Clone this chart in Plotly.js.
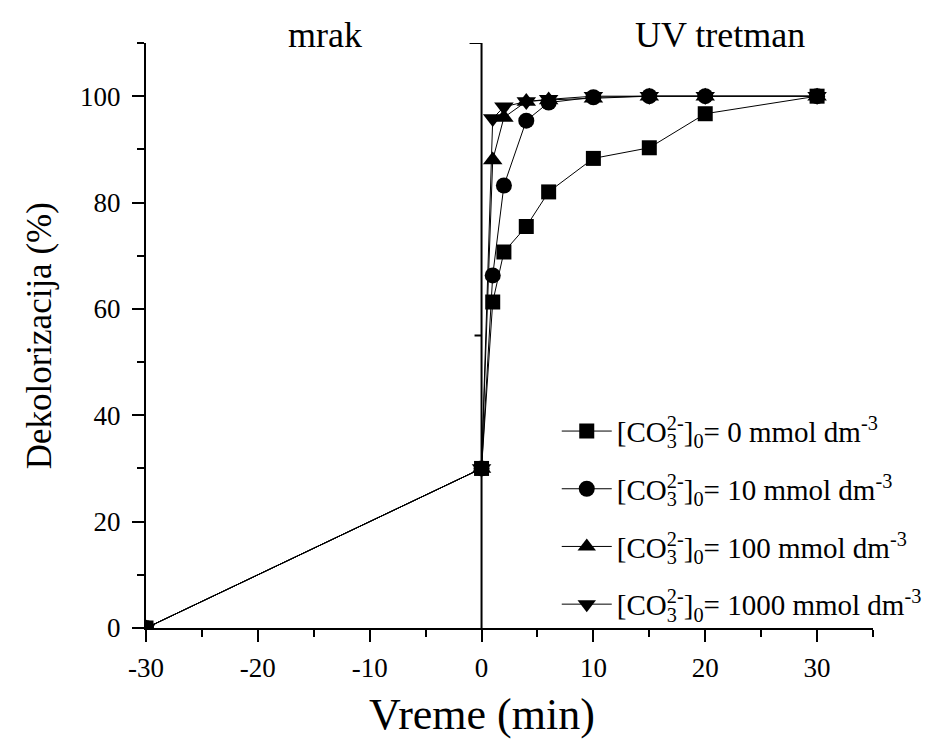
<!DOCTYPE html>
<html><head><meta charset="utf-8">
<script src="https://cdn.plot.ly/plotly-3.0.1.min.js"></script>
<style>body{margin:0;background:#fff}#chart{width:943px;height:749px}</style>
</head><body><div id="chart"></div>
<script>
// time (min): dark phase from -30 to 0, UV treatment afterwards
const timeMin = [-30, 0, 1, 2, 4, 6, 10, 15, 20, 30];
// decolorization (%) for each initial carbonate concentration
const co3_0    = [0, 30, 61.3, 70.7, 75.5, 82.0, 88.3, 90.3, 96.7, 100];
const co3_10   = [0, 30, 66.3, 83.2, 95.4, 98.8, 99.8, 100, 100, 100];
const co3_100  = [0, 30, 88.0, 96.0, 99.0, 99.3, 99.6, 100, 100, 100];
const co3_1000 = [0, 30, 95.8, 98.0, 99.0, 99.4, 100, 100, 100, 100];
const concLabels = ['0', '10', '100', '1000'];
const xTickVals = [-30, -20, -10, 0, 10, 20, 30];
const xTickText = ['-30', '-20', '-10', '0', '10', '20', '30'];
const yTickVals = [0, 20, 40, 60, 80, 100];
const yTickText = ['0', '20', '40', '60', '80', '100'];
const phaseLabels = ['mrak', 'UV tretman'];
const phaseBoundary = 0;

const FONT = 'Liberation Serif, Times New Roman, serif';
const seriesY = [co3_0, co3_10, co3_100, co3_1000];
const symbols = ['square', 'circle', 'triangle-up', 'triangle-down'];
const sizes = [15, 16, 17, 17];

const traces = seriesY.map((y, i) => ({
  x: timeMin, y: y, type: 'scatter', mode: 'lines+markers',
  name: '[CO<sub><span style="letter-spacing:-10px">3</span></sub><sup>2-</sup>]<sub>0</sub>= ' + concLabels[i] + ' mmol dm<sup>-3</sup>',
  legendgroup: 'g' + i,
  line: {color: '#000', width: 1},
  marker: {symbol: symbols[i], size: sizes[i], color: '#000', line: {width: 0}},
  cliponaxis: true
}));

const layout = {
  width: 943, height: 749,
  margin: {l: 146, r: 70, t: 43, b: 121},
  paper_bgcolor: '#fff', plot_bgcolor: '#fff',
  font: {family: FONT, color: '#000', size: 27},
  showlegend: true,
  legend: {x: 0.565, y: 0.38, xanchor: 'left', yanchor: 'top', bgcolor: 'rgba(0,0,0,0)',
           itemwidth: 50,
           font: {family: FONT, size: 29, color: '#000'}, traceorder: 'grouped', tracegroupgap: 17},
  xaxis: {range: [-30, 35], tickvals: xTickVals, ticktext: xTickText, ticks: 'outside', ticklen: 12, tickwidth: 2,
          tickcolor: '#000', showline: true, linewidth: 2, linecolor: '#000', showgrid: false,
          zeroline: false, tickfont: {family: FONT, size: 27}, ticklabelstandoff: 3,
          minor: {dtick: 5, tick0: -30, ticks: 'outside', ticklen: 7, tickwidth: 2, tickcolor: '#000', showgrid: false}},
  yaxis: {range: [0, 110], tickvals: yTickVals, ticktext: yTickText, ticks: 'outside', ticklen: 12, tickwidth: 2,
          tickcolor: '#000', showline: true, linewidth: 2, linecolor: '#000', showgrid: false,
          zeroline: false, tickfont: {family: FONT, size: 27}, ticklabelstandoff: 6,
          minor: {dtick: 10, tick0: 0, ticks: 'outside', ticklen: 7, tickwidth: 2, tickcolor: '#000', showgrid: false}},
  shapes: [
    {type: 'line', xref: 'x', yref: 'y', x0: phaseBoundary, x1: phaseBoundary, y0: 0, y1: 110, line: {color: '#000', width: 2}},
    {type: 'line', xref: 'x', yref: 'y', xsizemode: 'pixel', xanchor: phaseBoundary, x0: -12, x1: 0, y0: 110, y1: 110, line: {color: '#000', width: 2}},
    {type: 'line', xref: 'x', yref: 'y', xsizemode: 'pixel', xanchor: phaseBoundary, x0: -7, x1: 0, y0: 55, y1: 55, line: {color: '#000', width: 2}}
  ],
  annotations: [
    {text: phaseLabels[0], xref: 'x', yref: 'paper', x: -14, y: 1.014, xanchor: 'center', yanchor: 'middle', showarrow: false, font: {family: FONT, size: 36}},
    {text: phaseLabels[1], xref: 'x', yref: 'paper', x: 21.3, y: 1.014, xanchor: 'center', yanchor: 'middle', showarrow: false, font: {family: FONT, size: 36}},
    {text: 'Vreme (min)', xref: 'x', yref: 'paper', x: 0, y: -0.148, xanchor: 'center', yanchor: 'middle', showarrow: false, font: {family: FONT, size: 44}},
    {text: 'Dekolorizacija (%)', xref: 'paper', yref: 'paper', x: -0.146, y: 0.50, xanchor: 'center', yanchor: 'middle', textangle: -90, showarrow: false, font: {family: FONT, size: 35}}
  ]
};

Plotly.newPlot('chart', traces, layout, {displayModeBar: false, staticPlot: true});
</script>
</body></html>
